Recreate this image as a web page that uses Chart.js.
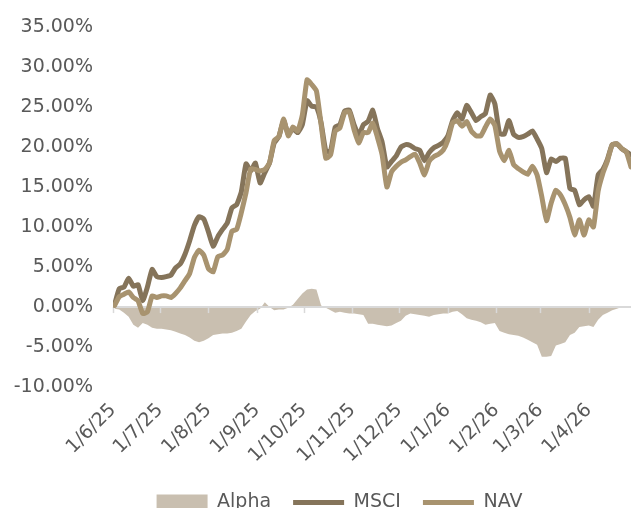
<!DOCTYPE html>
<html>
<head>
<meta charset="utf-8">
<script src="https://cdn.jsdelivr.net/npm/chart.js@4.4.1/dist/chart.umd.min.js"></script>
<style>
html, body { margin: 0; padding: 0; background: #fff; overflow: hidden; }
#wrap { width: 631px; height: 522px; }
</style>
</head>
<body>
<div id="wrap"><canvas id="perfChart" width="631" height="522"></canvas></div>
<script>
// dates of the readings (every third day)
var dates = [
  '2025-06-02','2025-06-05','2025-06-08','2025-06-11','2025-06-14','2025-06-17','2025-06-20','2025-06-23','2025-06-26','2025-06-29',
  '2025-07-02','2025-07-05','2025-07-08','2025-07-11','2025-07-14','2025-07-17','2025-07-20','2025-07-23','2025-07-26','2025-07-29',
  '2025-08-01','2025-08-04','2025-08-07','2025-08-10','2025-08-13','2025-08-16','2025-08-19','2025-08-22','2025-08-25','2025-08-28',
  '2025-08-31','2025-09-03','2025-09-06','2025-09-09','2025-09-12','2025-09-15','2025-09-18','2025-09-21','2025-09-24','2025-09-27',
  '2025-09-30','2025-10-03','2025-10-06','2025-10-09','2025-10-12','2025-10-15','2025-10-18','2025-10-21','2025-10-24','2025-10-27',
  '2025-10-30','2025-11-02','2025-11-05','2025-11-08','2025-11-11','2025-11-14','2025-11-17','2025-11-20','2025-11-23','2025-11-26',
  '2025-11-29','2025-12-02','2025-12-05','2025-12-08','2025-12-11','2025-12-14','2025-12-17','2025-12-20','2025-12-23','2025-12-26',
  '2025-12-29','2026-01-01','2026-01-04','2026-01-07','2026-01-10','2026-01-13','2026-01-16','2026-01-19','2026-01-22','2026-01-25',
  '2026-01-28','2026-01-31','2026-02-03','2026-02-06','2026-02-09','2026-02-12','2026-02-15','2026-02-18','2026-02-21','2026-02-24',
  '2026-02-27','2026-03-02','2026-03-05','2026-03-08','2026-03-11','2026-03-14','2026-03-17','2026-03-20','2026-03-23','2026-03-26',
  '2026-03-29','2026-04-01','2026-04-04','2026-04-07','2026-04-10','2026-04-13','2026-04-16','2026-04-19','2026-04-22','2026-04-25',
  '2026-04-28'
];

var msci = [
  0.3, 2.3, 2.5, 3.6, 2.6, 2.8, 0.8, 2.5, 4.7, 3.8,
  3.7, 3.8, 4.0, 4.9, 5.4, 6.6, 8.3, 10.2, 11.3, 11.0,
  9.4, 7.6, 8.8, 9.7, 10.5, 12.4, 12.8, 14.4, 17.9, 17.0,
  18.0, 15.5, 16.8, 18.0, 20.5, 21.3, 23.3, 21.6, 22.3, 21.8,
  22.8, 25.8, 25.1, 25.0, 23.0, 19.5, 19.5, 22.5, 22.8, 24.5,
  24.6, 22.8, 21.5, 22.8, 23.2, 24.6, 22.3, 20.6, 17.5, 18.2,
  18.9, 20.0, 20.3, 20.2, 19.8, 19.6, 18.3, 19.3, 19.9, 20.2,
  20.6, 21.4, 23.3, 24.3, 23.5, 25.2, 24.3, 23.3, 23.8, 24.2,
  26.5, 25.4, 21.7, 21.6, 23.3, 21.6, 21.2, 21.3, 21.6, 22.0,
  21.0, 19.8, 16.8, 18.5, 18.2, 18.6, 18.6, 14.8, 14.6, 12.8,
  13.4, 13.8, 12.6, 16.5, 17.2, 18.5, 20.3, 20.4, 19.8, 19.4,
  19.0
];

var nav = [
  0.2, 1.3, 1.6, 1.9, 1.2, 0.8, -0.8, -0.6, 1.4, 1.2,
  1.4, 1.4, 1.2, 1.7, 2.4, 3.3, 4.2, 6.2, 7.1, 6.5,
  4.8, 4.4, 6.3, 6.5, 7.2, 9.5, 9.7, 11.8, 14.3, 17.3,
  17.2, 17.0, 17.2, 18.0, 20.8, 21.3, 23.5, 21.4, 22.5, 22.0,
  24.0, 28.4, 27.8, 27.0, 22.8, 18.6, 19.0, 22.0, 22.4, 24.3,
  24.4, 22.2, 20.5, 21.8, 21.8, 23.0, 21.2, 19.0, 15.0, 16.9,
  17.6, 18.1, 18.4, 18.8, 19.1, 18.0, 16.5, 18.2, 18.8, 19.1,
  19.6, 20.9, 23.0, 23.3, 22.6, 23.2, 22.0, 21.4, 21.4, 22.5,
  23.5, 22.7, 19.5, 18.3, 19.6, 17.8, 17.3, 16.9, 16.6, 17.6,
  16.5, 13.8, 10.8, 13.0, 14.6, 14.0, 12.8, 11.2, 9.0, 10.9,
  9.0, 10.9, 10.0, 14.5, 16.7, 18.3, 20.3, 20.4, 19.8, 19.4,
  17.5
];

var alpha = [
  -0.2, -0.3, -0.7, -1.2, -2.2, -2.6, -2.0, -2.2, -2.6, -2.7,
  -2.7, -2.8, -2.9, -3.1, -3.3, -3.5, -3.8, -4.2, -4.4, -4.2,
  -3.9, -3.5, -3.4, -3.3, -3.3, -3.2, -3.0, -2.7, -1.8, -1.0,
  -0.5, -0.2, 0.6, 0.0, -0.4, -0.3, -0.3, -0.1, 0.3, 1.0,
  1.7, 2.2, 2.3, 2.2, 0.2, -0.1, -0.4, -0.7, -0.6, -0.7,
  -0.8, -0.8, -0.9, -1.0, -2.1, -2.1, -2.2, -2.3, -2.4, -2.3,
  -2.0, -1.7, -1.1, -0.8, -0.9, -1.0, -1.1, -1.2, -1.0, -0.9,
  -0.8, -0.8, -0.6, -0.5, -0.9, -1.4, -1.6, -1.7, -1.9, -2.2,
  -2.1, -2.0, -3.0, -3.2, -3.4, -3.5, -3.6, -3.8, -4.1, -4.4,
  -4.7, -6.2, -6.2, -6.1, -4.8, -4.6, -4.4, -3.5, -3.2, -2.5,
  -2.4, -2.3, -2.5, -1.6, -1.0, -0.7, -0.4, -0.2, 0.0, 0.1,
  0.0
];

// month ticks on the date axis
var tickDates = ['2025-06-01','2025-07-01','2025-08-01','2025-09-01','2025-10-01','2025-11-01',
                 '2025-12-01','2026-01-01','2026-02-01','2026-03-01','2026-04-01'];
var tickLabels = ['1/6/25','1/7/25','1/8/25','1/9/25','1/10/25','1/11/25',
                  '1/12/25','1/1/26','1/2/26','1/3/26','1/4/26'];
var yTicks = [-10, -5, 0, 5, 10, 15, 20, 25, 30, 35];

var startDay = Date.UTC(2025, 5, 1);
function dayNum(s) {
  var p = s.split('-');
  return (Date.UTC(+p[0], +p[1] - 1, +p[2]) - startDay) / 864e5;
}
var xs = dates.map(dayNum);
var tickDays = tickDates.map(dayNum);

function pts(vals) {
  return vals.map(function (v, i) { return { x: xs[i], y: v }; });
}

var textColor = '#595959';
var axisColor = '#D9D9D9';
var font = { family: 'DejaVu Sans', size: 19 };

// zero axis line with month tick marks, drawn on top of the alpha area
var zeroAxis = {
  id: 'zeroAxis',
  afterLayout: function (chart) {
    // let the y labels run past the left padding (it is there for the legend)
    chart.scales.y.left = 0;
  },
  afterDatasetDraw: function (chart, args) {
    if (args.index !== 0) return;
    var ctx = chart.ctx, x = chart.scales.x, y = chart.scales.y;
    var y0 = y.getPixelForValue(0);
    ctx.save();
    ctx.strokeStyle = axisColor;
    ctx.lineWidth = 2;
    ctx.beginPath();
    ctx.moveTo(chart.chartArea.left, y0);
    ctx.lineTo(chart.chartArea.right, y0);
    ctx.stroke();
    ctx.lineWidth = 1.5;
    tickDays.forEach(function (d) {
      var px = Math.round(x.getPixelForValue(d)) + 0.5;
      ctx.beginPath();
      ctx.moveTo(px, y0);
      ctx.lineTo(px, y0 + 6);
      ctx.stroke();
    });
    ctx.restore();
  }
};

var ctx = document.getElementById('perfChart').getContext('2d');
var chart = new Chart(ctx, {
  type: 'line',
  data: {
    datasets: [{
      label: 'Alpha',
      data: pts(alpha),
      backgroundColor: '#C9BFB0',
      borderColor: '#C9BFB0',
      borderWidth: 0,
      fill: 'origin',
      pointRadius: 0,
      pointStyle: 'rect',
      tension: 0,
      order: 3
    }, {
      label: 'MSCI',
      data: pts(msci),
      borderColor: '#85745A',
      backgroundColor: '#85745A',
      borderWidth: 5,
      borderCapStyle: 'round',
      borderJoinStyle: 'round',
      pointRadius: 0,
      pointStyle: 'line',
      tension: 0.15,
      fill: false,
      order: 2
    }, {
      label: 'NAV',
      data: pts(nav),
      borderColor: '#A8936F',
      backgroundColor: '#A8936F',
      borderWidth: 5,
      borderCapStyle: 'round',
      borderJoinStyle: 'round',
      pointRadius: 0,
      pointStyle: 'line',
      tension: 0.15,
      fill: false,
      order: 1
    }]
  },
  options: {
    responsive: false,
    animation: false,
    layout: { padding: { left: 48, top: 27, right: 0, bottom: 0 } },
    plugins: {
      tooltip: { enabled: false },
      legend: {
        position: 'bottom',
        labels: {
          usePointStyle: true,
          pointStyleWidth: 51,
          boxHeight: 16,
          color: textColor,
          font: font,
          padding: 22,
          sort: function (a, b) { return a.datasetIndex - b.datasetIndex; }
        }
      }
    },
    scales: {
      x: {
        type: 'linear',
        min: 0,
        max: xs[xs.length - 1],
        grid: { display: false },
        border: { display: false },
        afterBuildTicks: function (axis) {
          axis.ticks = tickDays.map(function (d) { return { value: d }; });
        },
        afterFit: function (axis) { axis.paddingLeft = 0; },
        ticks: {
          color: textColor,
          font: font,
          minRotation: 45,
          maxRotation: 45,
          padding: 4,
          callback: function (v) {
            var i = tickDays.indexOf(v);
            return i >= 0 ? tickLabels[i] : '';
          }
        }
      },
      y: {
        min: yTicks[0],
        max: yTicks[yTicks.length - 1],
        grid: { display: false, drawTicks: false },
        border: { display: false },
        afterBuildTicks: function (axis) {
          axis.ticks = yTicks.map(function (v) { return { value: v }; });
        },
        afterFit: function (axis) {
          axis.width = 65;
          axis.paddingTop = 0;
          axis.paddingBottom = 0;
        },
        ticks: {
          color: textColor,
          font: font,
          padding: 20,
          callback: function (v) { return v.toFixed(2) + '%'; }
        }
      }
    }
  },
  plugins: [zeroAxis]
});
</script>
</body>
</html>
